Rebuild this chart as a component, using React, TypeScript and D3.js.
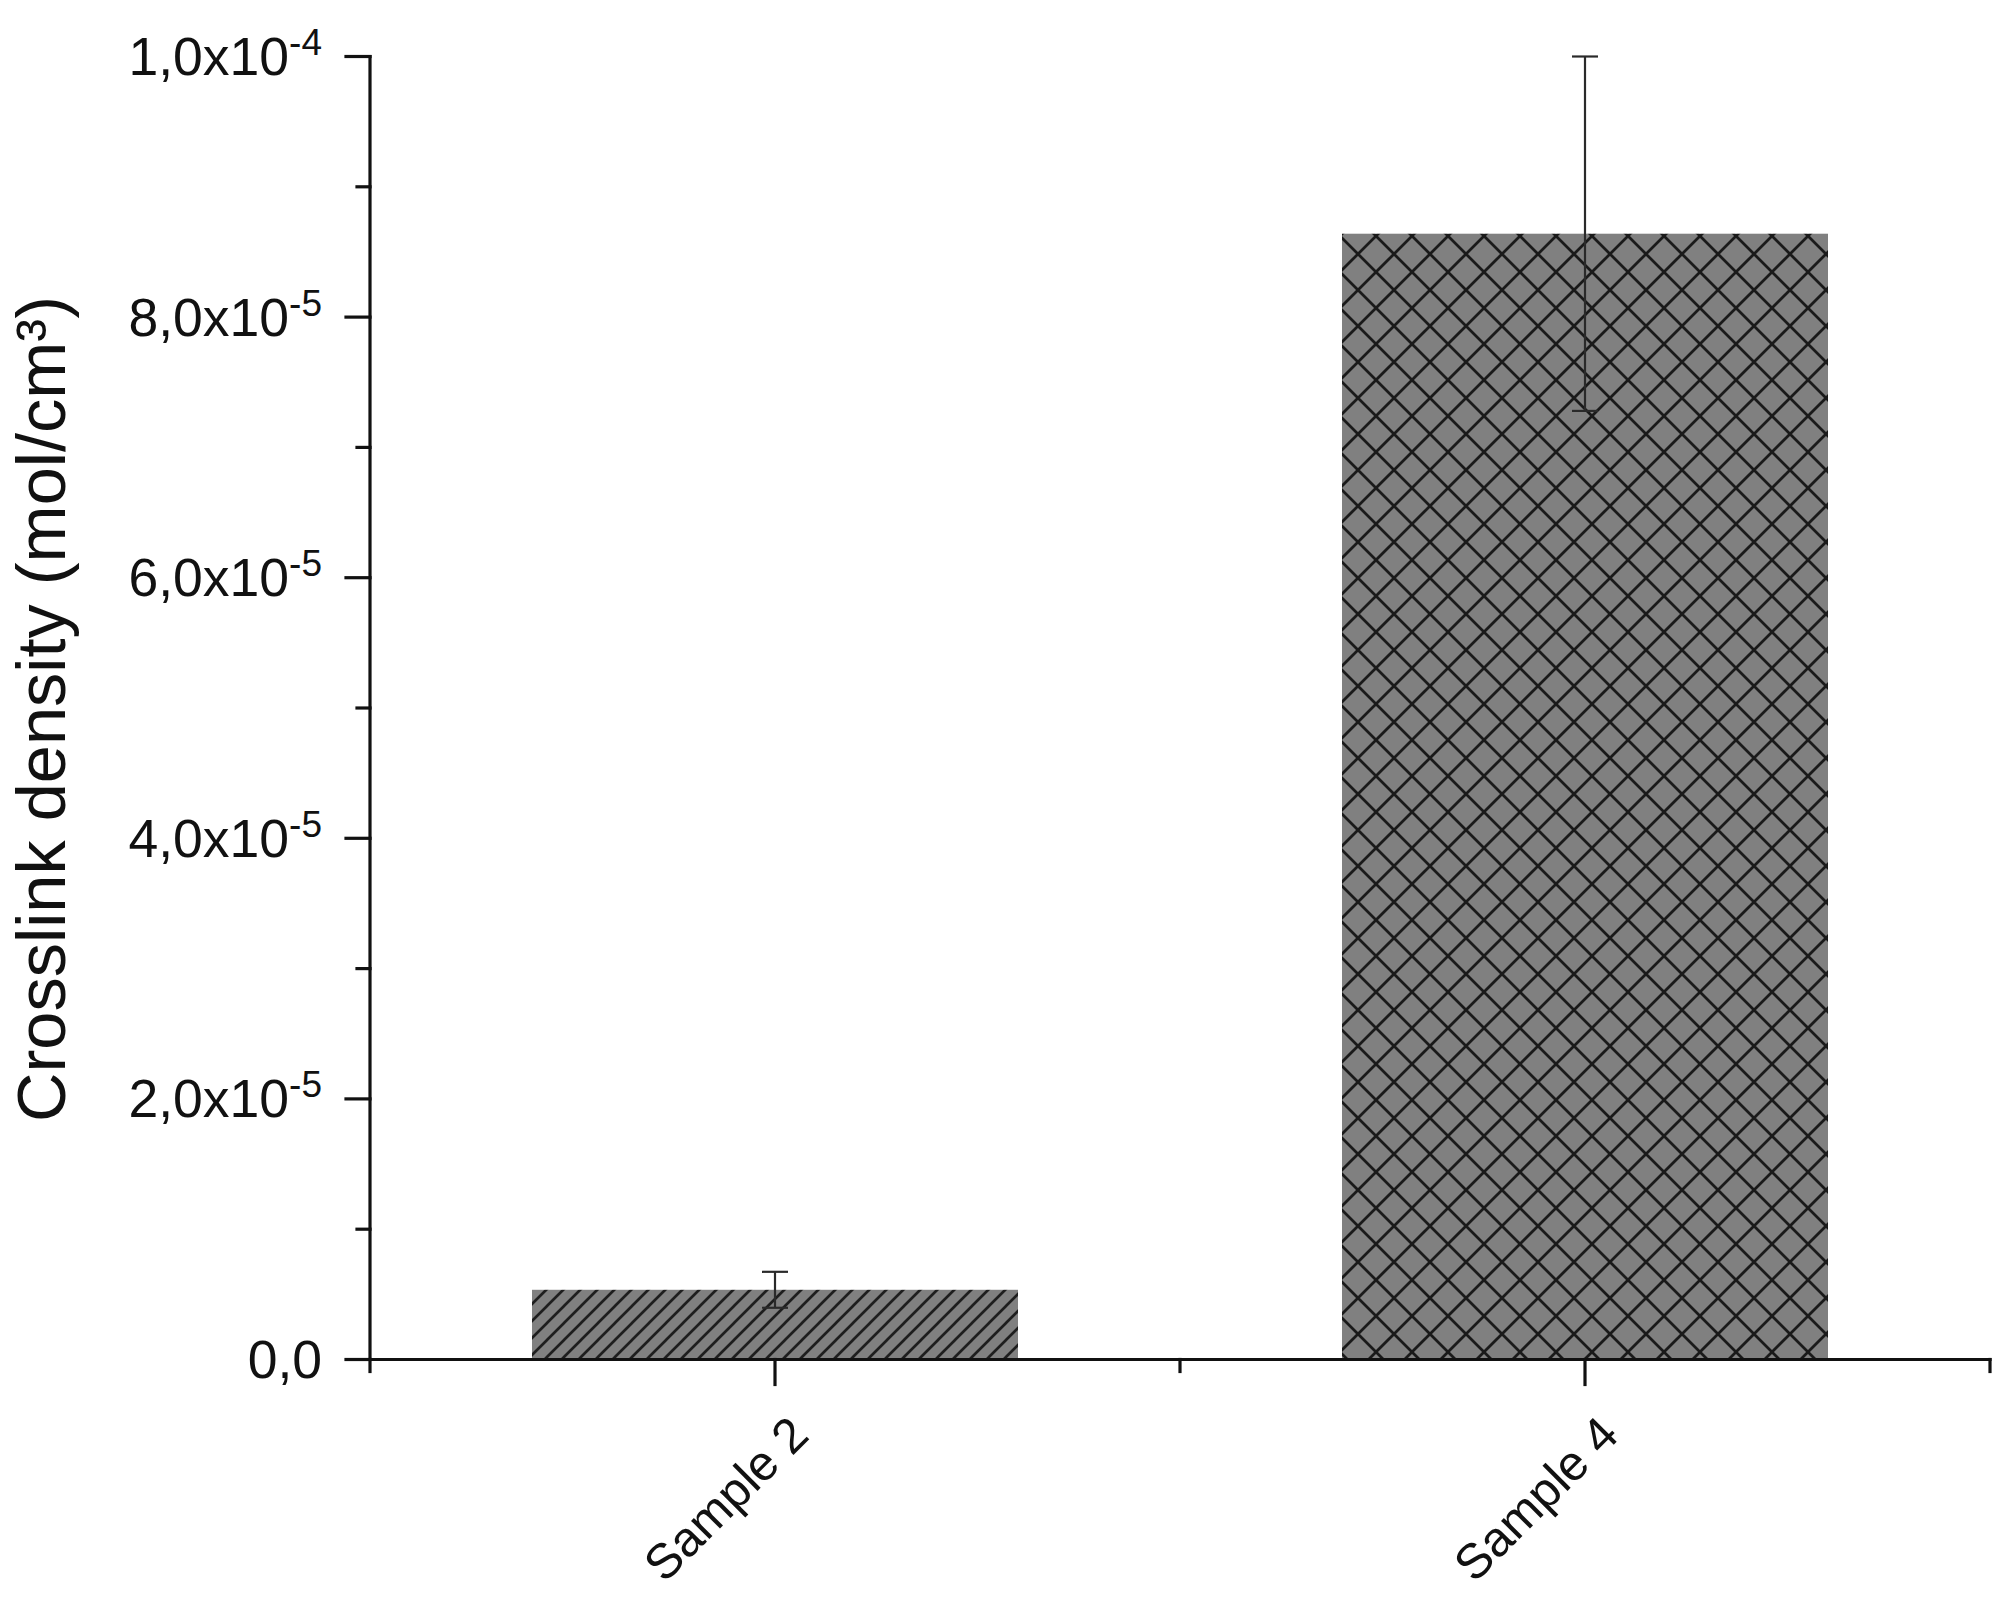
import React from "react";
import * as d3 from "d3";

const categories = ["Sample 2", "Sample 4"];
const categoryPositions = [1, 2];
const values = [5.35e-6, 8.64e-5];
const errors = [1.38e-6, 1.36e-5];
const patterns = ["hatch", "cross"];

const yTickValues = [0, 2e-5, 4e-5, 6e-5, 8e-5, 1e-4];
const yTickMantissas = ["0,0", "2,0", "4,0", "6,0", "8,0", "1,0"];
const yTickExponents = ["", "-5", "-5", "-5", "-5", "-4"];
const yMinorValues = [1e-5, 3e-5, 5e-5, 7e-5, 9e-5];
const xMajorTicks = [1, 2];
const xMinorTicks = [0.5, 1.5, 2.5];

const yTitle = "Crosslink density (mol/cm³)";

const W = 2013;
const H = 1601;
const FONT = "'Liberation Sans', Arial, Helvetica, sans-serif";

export default function App() {
  const x = d3.scaleLinear().domain([0.5, 2.5]).range([370, 1990]);
  const y = d3.scaleLinear().domain([0, 1e-4]).range([1359.5, 56.5]);
  const barW = x(1.6) - x(1);
  const axisColor = "#111";

  return (
    <svg
      width={W}
      height={H}
      viewBox={`0 0 ${W} ${H}`}
      style={{ position: "absolute", left: 0, top: 0, background: "#fff" }}
    >
      <defs>
        <pattern id="hatch" patternUnits="userSpaceOnUse" width={17} height={17} x={530} y={1289}>
          <rect width={17} height={17} fill="#808080" />
          <path d="M-4,4 L4,-4 M0,17 L17,0 M13,21 L21,13" stroke="#1e1e1e" strokeWidth={2.7} />
        </pattern>
        <pattern id="cross" patternUnits="userSpaceOnUse" width={36} height={36} x={1340} y={236}>
          <rect width={36} height={36} fill="#808080" />
          <path
            d="M-4,-4 L40,40 M-4,40 L40,-4"
            stroke="#1a1a1a"
            strokeWidth={2.8}
          />
        </pattern>
      </defs>

      {/* bars */}
      {categories.map((c, i) => (
        <rect
          key={c}
          x={x(categoryPositions[i]) - barW / 2}
          y={y(values[i])}
          width={barW}
          height={y(0) - y(values[i])}
          fill={`url(#${patterns[i]})`}
        />
      ))}

      {/* error bars */}
      {categories.map((c, i) => {
        const cx = x(categoryPositions[i]);
        const top = y(values[i] + errors[i]);
        const bot = y(values[i] - errors[i]);
        return (
          <g key={c + "err"} stroke="#2a2a2a" strokeWidth={2.2} fill="none">
            <line x1={cx} x2={cx} y1={top} y2={bot} />
            <line x1={cx - 13} x2={cx + 13} y1={top} y2={top} />
            <line x1={cx - 13} x2={cx + 13} y1={bot} y2={bot} />
          </g>
        );
      })}

      {/* axes */}
      <g stroke={axisColor} strokeWidth={3.2} fill="none" strokeLinecap="square">
        <line x1={x(0.5)} x2={x(0.5)} y1={y(1e-4)} y2={y(0)} />
        {yTickValues.map((v) => (
          <line key={"ym" + v} x1={x(0.5) - 24} x2={x(0.5)} y1={y(v)} y2={y(v)} />
        ))}
        {yMinorValues.map((v) => (
          <line key={"yn" + v} x1={x(0.5) - 13} x2={x(0.5)} y1={y(v)} y2={y(v)} />
        ))}
        <line x1={x(0.5)} x2={x(2.5)} y1={y(0)} y2={y(0)} />
        {xMajorTicks.map((v) => (
          <line key={"xm" + v} x1={x(v)} x2={x(v)} y1={y(0)} y2={y(0) + 25} />
        ))}
        {xMinorTicks.map((v) => (
          <line key={"xn" + v} x1={x(v)} x2={x(v)} y1={y(0)} y2={y(0) + 12} />
        ))}
      </g>

      {/* y tick labels */}
      {yTickValues.map((v, i) => (
        <text
          key={"yl" + v}
          x={322}
          y={y(v) + 18.5}
          textAnchor="end"
          fontFamily={FONT}
          fontSize={53.5}
          fill="#111"
        >
          {yTickMantissas[i] + (yTickExponents[i] ? "x10" : "")}
          {yTickExponents[i] ? (
            <tspan dy={-20} fontSize={37}>
              {yTickExponents[i]}
            </tspan>
          ) : null}
        </text>
      ))}

      {/* x tick labels */}
      {categories.map((c, i) => (
        <text
          key={"xl" + c}
          transform={`translate(${x(categoryPositions[i]) + 36},${y(0) + 78}) rotate(-45)`}
          textAnchor="end"
          fontFamily={FONT}
          fontSize={49}
          fill="#111"
        >
          {c}
        </text>
      ))}

      {/* y title */}
      <text
        transform={`translate(65,709) rotate(-90)`}
        textAnchor="middle"
        fontFamily={FONT}
        fontSize={68.5}
        fill="#111"
      >
        {yTitle}
      </text>
    </svg>
  );
}
